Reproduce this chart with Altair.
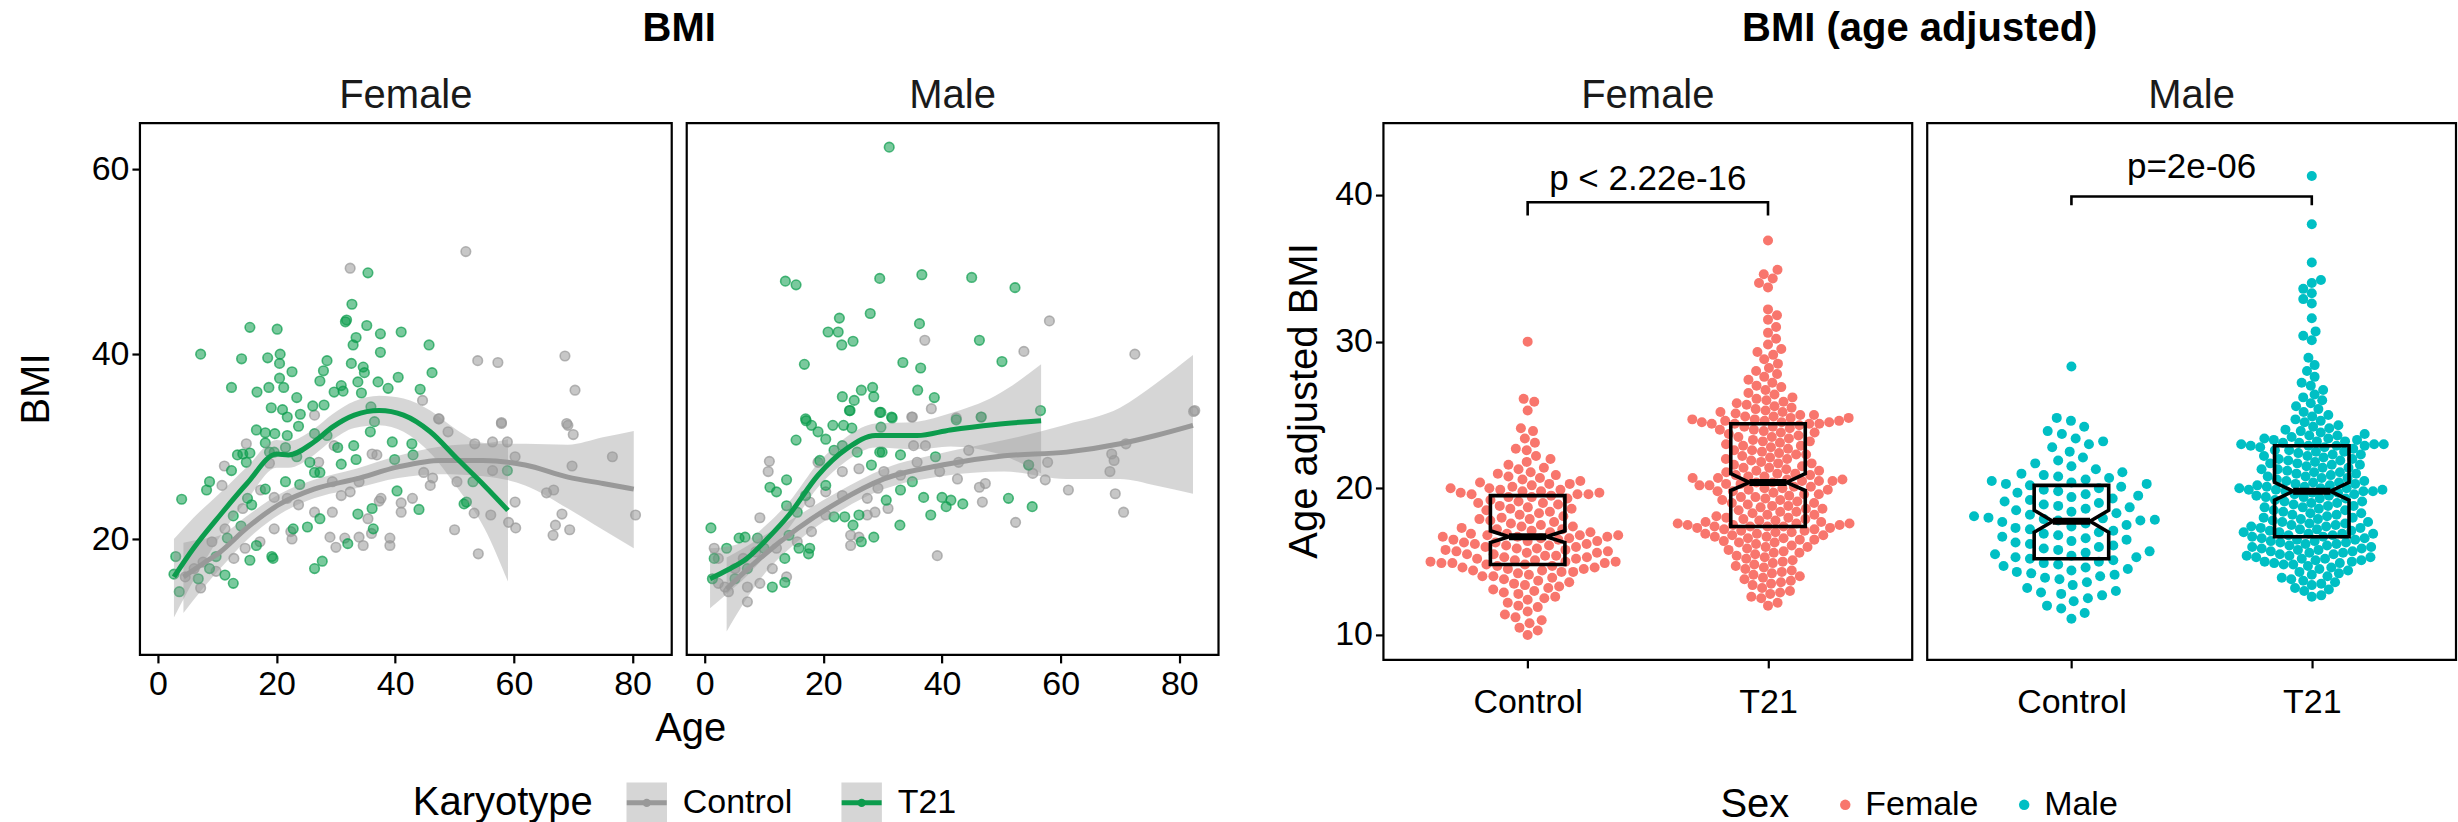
import math
import altair as alt
import pandas as pd

FONT = "Liberation Sans"
GREY = "#999999"
GREEN = "#0C9C4D"
PINK = "#F8766D"
TEAL = "#00BFC4"
KEY_BG = "#D6D6D6"

SEXES = ["Female", "Male"]
KARYOTYPES = ["Control", "T21"]
KAR_COLORS = {"Control": GREY, "T21": GREEN}
SEX_COLORS = {"Female": PINK, "Male": TEAL}

# ---------------- raw BMI vs age (age, BMI) ----------------
F_CONTROL = [(32.4,49.3),(51.9,51.1),(53.9,39.3),(57.3,39.1),(68.6,39.8),(70.3,36.1),(44.6,35.0),(47.3,33.0),(57.9,32.6),(68.9,32.5),
    (14.9,30.3),(11.2,27.9),(10.8,25.8),(17.3,25.3),(19.6,24.5),(21.8,24.4),(23.7,23.7),(22.4,20.8),(22.6,20.0),(29.0,20.2),
    (30.0,19.1),(31.5,20.1),(33.9,20.2),(36.0,20.6),(36.9,29.1),(36.1,29.2),(39.1,19.3),(37.3,24.1),(41.0,23.9),(41.0,22.9),
    (44.8,27.2),(46.3,26.6),(47.4,33.0),(48.9,31.6),(50.0,21.0),(53.3,22.8),(54.0,18.4),(56.1,22.6),(56.4,27.4),(58.9,30.5),
    (60.2,28.9),(59.1,21.8),(60.3,21.2),(60.2,24.0),(65.5,25.0),(66.7,25.3),(67.0,21.5),(66.6,20.4),(68.1,22.7),(69.4,21.0),
    (69.1,32.3),(70.0,31.3),(69.8,27.9),(76.6,28.9),(80.5,22.6),(53.4,30.3),(57.9,32.5),(26.4,33.4),(29.7,30.1),(27.1,28.3),
    (18.8,28.2),(14.3,23.3),(11.3,21.1),(9.1,19.7),(7.6,17.5),(6.1,16.8),(4.6,15.9),(7.2,14.7),(9.8,16.5),(12.8,17.9),
    (14.7,19.0),(17.2,19.7),(19.6,21.1),(26.4,22.9),(29.4,22.9),(30.9,24.7),(33.9,26.2),(32.4,25.1),(29.4,26.2),(35.4,22.2),
    (37.6,24.4),(42.9,24.4),(45.9,25.8),(50.4,26.2),(56.4,30.5),(39.1,20.1),(34.6,19.3)]
F_T21 = [(35.4,48.8),(32.7,45.4),(31.8,43.7),(31.6,43.5),(35.2,43.1),(15.5,42.9),(20.1,42.7),(37.5,42.2),(41.0,42.4),(33.4,41.8),
    (32.9,41.0),(45.7,41.0),(7.2,40.0),(14.1,39.5),(18.5,39.6),(20.6,40.0),(20.5,39.0),(28.5,39.3),(37.5,40.2),(32.6,39.0),
    (34.6,38.6),(27.9,38.2),(22.6,38.1),(46.2,38.0),(34.8,38.0),(20.5,37.4),(27.3,37.1),(33.7,37.0),(37.1,37.0),(40.5,37.5),
    (12.4,36.4),(18.7,36.4),(21.2,36.4),(30.9,36.6),(38.8,36.3),(44.2,36.2),(16.7,35.9),(31.2,36.0),(29.7,35.9),(34.3,35.8),
    (23.4,35.3),(19.1,34.2),(21.0,34.0),(26.1,34.4),(28.0,34.5),(35.9,34.3),(21.8,33.2),(24.0,33.5),(16.6,31.8),(18.1,31.5),
    (19.7,31.4),(21.8,31.2),(23.7,32.2),(26.4,31.4),(28.5,31.2),(13.4,29.1),(14.3,29.2),(14.9,28.3),(18.1,30.4),(19.6,29.4),
    (21.5,29.9),(23.4,28.9),(25.6,28.3),(30.3,29.9),(33.0,30.1),(35.8,31.6),(36.5,32.7),(39.5,30.5),(42.8,30.3),(39.9,28.6),
    (43.0,29.1),(30.9,28.1),(33.4,28.6),(12.4,27.4),(8.7,26.2),(8.2,25.3),(4.0,24.3),(18.1,25.4),(21.5,26.2),(23.9,25.9),
    (26.4,27.2),(27.3,27.2),(15.1,24.4),(15.8,23.7),(12.7,22.5),(14.0,21.4),(11.7,20.1),(16.6,19.3),(15.5,17.7),(19.2,18.1),
    (19.4,17.9),(22.8,21.1),(25.2,21.3),(27.3,22.2),(33.7,22.7),(36.1,23.3),(36.3,21.1),(32.0,19.5),(40.3,25.2),(44.0,23.2),
    (51.6,23.8),(52.0,24.0),(53.1,26.2),(58.9,27.4),(3.0,18.1),(2.7,16.2),(3.6,14.3),(6.8,15.7),(8.7,16.8),(9.8,18.1),
    (11.3,16.1),(12.7,15.2),(26.4,16.8),(27.7,17.6),(18.8,29.4),(15.5,29.3)]
M_CONTROL = [(58.1,43.6),(37.1,41.5),(53.8,40.3),(72.5,40.0),(38.2,34.1),(34.9,33.2),(82.6,33.9),(42.4,33.1),(46.6,33.2),
    (10.9,28.4),(10.7,27.3),(9.3,22.3),(7.2,13.2),(4.0,14.3),(3.4,14.8),(2.3,15.2),(1.6,19.0),(2.3,17.9),(7.2,14.8),(9.3,15.2),
    (13.8,15.9),(11.4,16.8),(18.0,20.8),(17.7,24.0),(19.1,28.3),(24.6,19.3),(26.0,20.2),(27.4,24.4),(28.7,22.9),(30.9,23.3),
    (29.2,25.5),(30.2,27.3),(35.0,33.2),(35.2,30.1),(37.2,30.1),(39.2,18.2),(39.6,27.3),(42.8,28.3),(42.6,26.5),(44.5,29.6),
    (46.3,25.6),(47.3,26.0),(46.8,24.0),(52.4,21.8),(54.6,28.0),(55.3,27.1),(57.4,26.4),(57.8,28.3),(61.3,25.3),(68.3,27.3),
    (68.6,29.2),(69.0,28.5),(69.2,24.9),(70.6,22.9),(71.0,30.3),(82.4,33.8),(5.1,16.8),(6.5,17.9),(8.6,18.6),(12.1,19.0),
    (15.6,19.7),(20.4,22.6),(23.2,24.7),(26.0,27.6),(33.0,26.9),(35.8,28.3),(24.6,20.4),(23.2,27.3),(20.4,25.1),(27.4,22.6)]
M_T21 = [(31.1,62.4),(13.6,47.9),(15.4,47.5),(29.5,48.2),(36.6,48.6),(45.0,48.3),(52.3,47.2),(27.9,44.4),(22.7,43.9),(36.2,43.3),
    (20.8,42.4),(22.5,42.4),(23.1,41.0),(25.0,41.4),(46.3,41.5),(16.8,38.9),(33.4,39.1),(36.4,38.5),(50.1,39.2),(23.2,35.4),
    (25.2,35.0),(26.4,36.1),(28.3,36.4),(28.5,35.4),(35.9,36.1),(38.7,35.3),(24.4,33.9),(29.7,33.7),(56.6,33.9),(17.0,33.0),
    (31.5,33.2),(1.05,21.2),(1.3,15.7),(1.6,17.9),(3.7,19.0),(5.8,20.1),(6.8,20.2),(11.4,14.8),(13.5,15.3),(11.0,25.6),
    (12.1,25.1),(13.8,26.4),(15.4,30.7),(17.1,32.8),(18.0,32.3),(19.1,31.6),(20.4,30.8),(21.6,32.3),(23.4,32.3),(24.8,32.0),
    (24.5,33.9),(29.5,33.7),(31.6,33.1),(29.7,32.1),(19.4,28.5),(21.8,29.6),(23.2,30.1),(25.7,29.4),(28.1,28.0),(29.9,29.4),
    (33.0,29.1),(13.8,23.6),(15.6,22.9),(17.0,24.7),(14.2,20.4),(15.9,19.0),(17.5,18.4),(17.7,19.0),(13.5,17.9),(21.8,22.4),
    (23.6,22.4),(25.0,21.5),(26.0,22.6),(28.5,20.2),(26.4,19.7),(32.9,21.5),(30.6,24.2),(33.0,25.3),(35.0,26.2),(36.9,24.5),
    (38.1,22.6),(40.0,24.5),(40.7,23.5),(41.5,24.2),(43.5,23.8),(51.2,24.4),(55.2,23.5),(54.6,28.0),(46.6,33.2),(42.4,32.9),
    (38.9,28.9),(29.5,29.4),(20.4,25.8),(8.9,20.1),(10.0,19.0),(7.2,16.8),(5.1,15.7)]

# ---------------- loess fits (age, fit, lower, upper) ----------------
F_CONTROL_FIT = [(4.3,15.9,12.0,19.6),(7.5,17.3,14.6,20.0),(10.5,18.6,16.8,20.4),(15,21.2,19.9,22.5),(20.6,23.8,22.7,24.9),
    (26.3,25.4,24.4,26.4),(33.4,26.5,25.5,27.6),(40.5,27.8,26.6,29.0),(47.7,28.5,27.0,30.0),(54.8,28.5,26.8,30.3),
    (61.9,28.0,25.8,30.3),(69.1,26.7,23.3,30.2),(75,26.0,21.0,31.0),(80.2,25.4,19.0,31.7)]
F_T21_FIT = [(2.7,15.9,11.5,20.0),(6,19.0,15.5,22.3),(10.5,22.6,20.3,25.0),(15,26.0,24.2,27.8),(20,29.2,27.7,30.7),
    (22,29.1,27.7,30.6),(26.3,30.5,29.1,31.9),(29.4,32.1,30.7,33.5),(33.1,33.4,32.0,34.9),(37.3,33.9,32.3,35.5),
    (41.4,33.4,31.6,35.2),(45.9,31.6,29.3,33.9),(50.4,28.7,25.6,31.8),(55,25.8,21.2,30.4),(59,23.1,15.4,30.8)]
M_CONTROL_FIT = [(3.7,14.6,10.0,18.0),(6.5,16.3,13.0,19.0),(9.3,17.9,15.6,20.1),(15.6,21.1,19.7,22.5),(22.5,24.0,22.9,25.1),
    (30.2,26.5,25.4,27.6),(40,28.0,26.8,29.3),(50.5,29.0,27.3,30.7),(61,29.4,26.5,32.4),(70,30.3,26.5,34.2),
    (76,31.2,25.8,36.8),(82.3,32.3,24.9,39.9)]
M_T21_FIT = [(0.9,15.7,12.5,19.0),(4,16.7,14.2,19.2),(7.1,17.9,16.0,19.8),(10.5,20.0,18.4,21.6),(14.2,22.6,21.2,24.0),
    (19.1,26.9,25.6,28.2),(24,29.8,28.5,31.1),(28.8,31.2,29.9,32.5),(35.8,31.2,29.7,32.7),(41.4,31.8,30.0,33.6),
    (49,32.4,29.3,35.5),(56.7,32.8,27.1,38.9)]

# ---------------- age adjusted BMI ----------------
ADJ_F_CONTROL = [30.0,26.1,25.9,25.3,24.1,23.9,23.4,23.1,22.7,22.6,22.2,22.0,21.8,21.6,21.4,21.3,21.1,21.0,20.9,20.8,
    20.7,20.6,20.5,20.4,20.3,20.3,20.2,20.1,20.0,20.0,19.9,19.9,19.8,19.8,19.7,19.7,19.6,19.6,19.6,19.5,
    19.4,19.4,19.3,19.2,19.1,19.0,19.0,18.9,18.8,18.7,18.6,18.6,18.5,18.4,18.3,18.2,18.1,18.0,17.9,17.9,
    17.8,17.7,17.6,17.5,17.4,17.4,17.3,17.2,17.2,17.1,17.0,17.0,16.9,16.9,16.8,16.8,16.8,16.7,16.7,16.7,
    16.6,16.6,16.5,16.5,16.4,16.4,16.3,16.3,16.2,16.2,16.1,16.1,16.0,16.0,15.9,15.9,15.8,15.8,15.7,15.7,
    15.6,15.6,15.5,15.5,15.4,15.4,15.3,15.3,15.2,15.2,15.1,15.1,15.0,15.0,15.0,14.9,14.9,14.9,14.8,14.8,
    14.7,14.7,14.6,14.6,14.5,14.5,14.4,14.4,14.3,14.3,14.2,14.1,14.0,14.0,13.9,13.8,13.7,13.6,13.5,13.4,
    13.3,13.2,13.1,13.0,12.9,12.8,12.6,12.5,12.4,12.2,12.0,11.9,11.6,11.4,11.2,11.0,10.8,10.5,10.3,10.0]
ADJ_F_T21 = [36.9,34.9,34.6,34.3,34.0,33.7,32.2,31.8,31.5,31.0,30.6,30.2,29.8,29.5,29.3,29.1,28.8,28.5,28.2,28.0,
    27.8,27.6,27.4,27.2,27.0,26.9,26.7,26.5,26.4,26.2,26.1,26.0,25.9,25.8,25.7,25.6,25.5,25.4,25.3,25.2,
    25.2,25.1,25.0,25.0,24.9,24.9,24.8,24.8,24.7,24.7,24.6,24.6,24.6,24.5,24.5,24.5,24.4,24.4,24.4,24.4,
    24.3,24.2,24.2,24.1,24.0,24.0,23.9,23.8,23.8,23.7,23.6,23.5,23.5,23.4,23.3,23.2,23.2,23.1,23.0,22.9,
    22.9,22.8,22.7,22.6,22.6,22.5,22.4,22.3,22.3,22.2,22.1,22.0,22.0,21.9,21.8,21.7,21.7,21.6,21.5,21.4,
    21.4,21.3,21.2,21.2,21.1,21.0,21.0,20.9,20.9,20.8,20.8,20.7,20.7,20.6,20.6,20.5,20.5,20.5,20.4,20.4,
    20.3,20.3,20.2,20.2,20.1,20.1,20.0,20.0,19.9,19.9,19.8,19.8,19.7,19.6,19.6,19.5,19.4,19.4,19.3,19.2,
    19.2,19.1,19.0,19.0,18.9,18.8,18.8,18.7,18.6,18.6,18.5,18.4,18.4,18.3,18.2,18.2,18.1,18.0,18.0,17.9,
    17.9,17.8,17.8,17.7,17.7,17.6,17.6,17.6,17.5,17.5,17.5,17.4,17.4,17.4,17.4,17.3,17.3,17.2,17.2,17.1,
    17.1,17.0,17.0,16.9,16.9,16.8,16.8,16.7,16.7,16.6,16.6,16.5,16.5,16.4,16.3,16.3,16.2,16.1,16.0,16.0,
    15.9,15.8,15.7,15.6,15.6,15.5,15.4,15.3,15.2,15.1,15.0,14.9,14.8,14.7,14.6,14.5,14.4,14.3,14.2,14.1,
    14.0,13.9,13.8,13.7,13.6,13.5,13.4,13.2,13.0,12.9,12.8,12.6,12.5,12.2,12.0]
ADJ_M_CONTROL = [28.3,24.8,24.6,24.2,23.9,23.7,23.4,23.2,23.0,22.8,22.5,22.1,21.9,21.7,21.5,21.3,21.1,21.0,20.9,20.8,
    20.7,20.6,20.5,20.4,20.3,20.3,20.2,20.1,20.0,19.9,19.8,19.7,19.6,19.5,19.4,19.3,19.2,19.1,19.0,18.9,
    18.8,18.7,18.6,18.5,18.4,18.3,18.2,18.1,18.0,17.95,17.9,17.85,17.8,17.8,17.7,17.6,17.5,17.4,17.3,17.2,
    17.1,17.0,16.9,16.8,16.7,16.6,16.5,16.4,16.3,16.2,16.1,16.0,15.9,15.8,15.7,15.6,15.5,15.4,15.3,15.3,
    15.2,15.1,15.0,14.9,14.8,14.7,14.6,14.5,14.4,14.3,14.2,14.1,14.0,13.9,13.8,13.6,13.4,13.2,13.0,12.9,
    12.8,12.7,12.5,12.3,12.0,11.8,11.5,11.1]
ADJ_M_T21 = [41.3,38.0,35.4,34.2,34.0,33.6,33.3,32.9,32.6,31.6,30.7,30.4,30.1,28.9,28.4,28.0,27.6,27.2,27.0,26.7,
    26.4,26.2,26.0,25.8,25.6,25.4,25.2,25.0,24.9,24.7,24.6,24.5,24.3,24.2,24.1,24.0,23.9,23.8,23.7,23.6,
    23.6,23.5,23.4,23.4,23.3,23.3,23.2,23.2,23.1,23.1,23.0,23.0,23.0,22.9,22.9,22.9,22.9,
    22.8,22.8,22.7,22.6,22.6,22.5,22.5,22.4,22.3,22.3,22.2,22.2,22.1,22.0,22.0,21.9,21.9,21.8,21.7,21.7,
    21.6,21.6,21.5,21.4,21.4,21.3,21.3,21.2,21.1,21.1,21.0,21.0,20.9,20.8,20.8,20.7,20.7,20.6,20.5,20.5,
    20.4,20.4,20.3,20.3,20.2,20.2,20.1,20.1,20.0,20.0,20.0,19.9,19.9,19.9,19.8,19.8,19.8,
    19.7,19.7,19.6,19.6,19.5,19.5,19.4,19.4,19.3,19.3,19.2,19.1,19.1,19.0,19.0,18.9,18.8,18.8,18.7,18.7,
    18.6,18.5,18.5,18.4,18.3,18.3,18.2,18.2,18.1,18.0,18.0,17.9,17.9,17.8,17.7,17.7,17.6,17.6,17.5,17.5,
    17.4,17.4,17.3,17.3,17.2,17.2,17.1,17.1,17.0,17.0,16.9,16.9,16.9,16.8,16.8,16.7,16.7,
    16.6,16.6,16.5,16.5,16.4,16.4,16.3,16.3,16.2,16.2,16.1,16.1,16.0,16.0,15.9,15.9,15.8,15.8,15.7,15.7,
    15.6,15.6,15.5,15.5,15.4,15.4,15.3,15.3,15.2,15.2,15.1,15.1,15.0,15.0,14.9,14.9,14.8,14.8,14.7,14.6,
    14.5,14.4,14.3,14.2,14.1,14.0,13.9,13.8,13.7,13.6,13.5,13.4,13.2,13.1,13.0,12.7,12.6]

# notched box statistics
BOX_SEX = ["Female", "Female", "Male", "Male"]
BOX_CAT = [1, 2, 1, 2]
BOX_Q1 = [14.8, 17.4, 15.2, 16.7]
BOX_NLO = [16.3, 19.85, 17.0, 19.2]
BOX_MED = [16.7, 20.4, 17.75, 19.8]
BOX_NHI = [17.1, 21.0, 18.5, 20.4]
BOX_Q3 = [19.5, 24.4, 20.2, 22.9]

P_SEX = ["Female", "Male"]
P_TEXT = ["p < 2.22e-16", "p=2e-06"]
P_BAR = [39.5, 39.9]
P_TIP = [38.6, 39.3]
P_DY = [-12, -18]

# ---------------- layout constants (pixels) ----------------
LW, LH = 532, 532
RW, RH = 529, 537
GAP = 15
SPACER_W = 135
L_XDOM = [-3.03, 86.6]
L_YDOM = [7.46, 65.0]
R_XDOM = [0.4, 2.6]
R_YDOM = [8.3, 44.9]
BOX_HALF = 0.155
# collision spacing used to spread each swarm (px): Female Control, Female T21, Male Control, Male T21
SWARM_DIAM = [11.0, 10.0, 14.5, 9.6]

# ---------------- data frames ----------------
rows = []
for sex, kar, lst in [("Female", "Control", F_CONTROL), ("Female", "T21", F_T21),
                      ("Male", "Control", M_CONTROL), ("Male", "T21", M_T21)]:
    for a, b in lst:
        rows.append({"sex": sex, "kar": kar, "col": KAR_COLORS[kar], "age": a, "bmi": b})
df_pts = pd.DataFrame(rows)

rows = []
for sex, kar, lst in [("Female", "Control", F_CONTROL_FIT), ("Female", "T21", F_T21_FIT),
                      ("Male", "Control", M_CONTROL_FIT), ("Male", "T21", M_T21_FIT)]:
    for a, f, lo, hi in lst:
        rows.append({"sex": sex, "kar": kar, "col": KAR_COLORS[kar], "age": a, "fit": f, "lo": lo, "hi": hi})
df_fit = pd.DataFrame(rows)


def swarm(vals, px_y, px_x, diam):
    ys = [v * px_y for v in vals]
    order = sorted(range(len(vals)), key=lambda i: ys[i])
    placed = []
    out = [0.0] * len(vals)
    for k, i in enumerate(order):
        y = ys[i]
        near = [(px, py) for (px, py) in placed if abs(py - y) < diam]
        cands = [0.0]
        for px, py in near:
            d = math.sqrt(max(diam ** 2 - (py - y) ** 2, 0.0))
            cands += [px + d, px - d]
        sgn = 1 if k % 2 else -1
        cands.sort(key=lambda c: (round(abs(c), 4), -sgn * c))
        for c in cands:
            if all((c - px) ** 2 + (y - py) ** 2 >= diam ** 2 - 1e-6 for px, py in near):
                out[i] = c
                placed.append((c, y))
                break
    return [o / px_x for o in out]


PX_Y = RH / (R_YDOM[1] - R_YDOM[0])
PX_X = RW / (R_XDOM[1] - R_XDOM[0])
rows = []
for (sex, cat, vals), diam in zip([("Female", 1, ADJ_F_CONTROL), ("Female", 2, ADJ_F_T21),
                                   ("Male", 1, ADJ_M_CONTROL), ("Male", 2, ADJ_M_T21)], SWARM_DIAM):
    offs = swarm(vals, PX_Y, PX_X, diam)
    for v, o in zip(vals, offs):
        rows.append({"sex": sex, "col": SEX_COLORS[sex], "xpos": cat + o, "val": v})
df_sw = pd.DataFrame(rows)

rows = []
med_rows = []
for s, c, q1, nlo, md, nhi, q3 in zip(BOX_SEX, BOX_CAT, BOX_Q1, BOX_NLO, BOX_MED, BOX_NHI, BOX_Q3):
    w, n = BOX_HALF, BOX_HALF / 2
    pts = [(c - w, q1), (c + w, q1), (c + w, nlo), (c + n, md), (c + w, nhi), (c + w, q3),
           (c - w, q3), (c - w, nhi), (c - n, md), (c - w, nlo), (c - w, q1), (c + w, q1)]
    for k, (x, y) in enumerate(pts):
        rows.append({"sex": s, "grp": f"{s}{c}", "ord": k, "x": x, "y": y})
    med_rows.append({"sex": s, "xl": c - n, "xr": c + n, "med": md})
df_box = pd.DataFrame(rows)
df_med = pd.DataFrame(med_rows)

rows = []
txt_rows = []
for s, t, bar, tip in zip(P_SEX, P_TEXT, P_BAR, P_TIP):
    for k, (x, y) in enumerate([(1, tip), (1, bar), (2, bar), (2, tip)]):
        rows.append({"sex": s, "ord": k, "x": x, "y": y})
    txt_rows.append({"sex": s, "x": 1.5, "y": bar, "t": t})
df_br = pd.DataFrame(rows)
df_pt = pd.DataFrame(txt_rows)


def label(text, x, y, size, weight="normal", align="center", baseline="alphabetic", angle=0,
          color="black"):
    return alt.Chart(pd.DataFrame({"t": [text]})).mark_text(
        align=align, baseline=baseline, fontSize=size, fontWeight=weight, angle=angle,
        color=color).encode(x=alt.value(x), y=alt.value(y), text="t:N")


def one(kind, x, y, **kw):
    base = alt.Chart(pd.DataFrame({"k": [0]}))
    if kind == "square":
        m = base.mark_square(**kw)
    elif kind == "point":
        m = base.mark_point(**kw)
    else:
        m = base.mark_circle(**kw)
    return m.encode(x=alt.value(x), y=alt.value(y))


COL = alt.Color("col:N", scale=None, legend=None)

# ---------------- left group: BMI vs Age ----------------
lxs = alt.Scale(domain=L_XDOM, nice=False, zero=False)
lys = alt.Scale(domain=L_YDOM, nice=False, zero=False)


def left_panel(sex, first):
    xax = alt.Axis(values=[0, 20, 40, 60, 80], title=None, labelPadding=5)
    yax = alt.Axis(values=[20, 40, 60], title=None, labelPadding=3) if first else None
    X = alt.X("age:Q", scale=lxs, axis=xax)
    pts = alt.Chart(df_pts).transform_filter(alt.datum.sex == sex).mark_circle(
        size=92, fillOpacity=0.55, strokeOpacity=0.7, strokeWidth=1.6).encode(
        x=X, y=alt.Y("bmi:Q", scale=lys, axis=yax), color=COL,
        stroke=alt.Stroke("col:N", scale=None, legend=None))
    band = alt.Chart(df_fit).transform_filter(alt.datum.sex == sex).mark_area(
        color=GREY, opacity=0.4, interpolate="monotone").encode(
        x=X, y=alt.Y("lo:Q", scale=lys, axis=yax), y2="hi:Q", detail="kar:N")
    line = alt.Chart(df_fit).transform_filter(alt.datum.sex == sex).mark_line(
        strokeWidth=5, interpolate="monotone").encode(
        x=X, y=alt.Y("fit:Q", scale=lys, axis=yax), color=COL, detail="kar:N")
    layers = [pts, band, line, label(sex, LW / 2, -15, 40, color="#1A1A1A")]
    if first:
        ly = 680
        layers += [
            label("BMI", LW + GAP / 2, -82, 40, weight="bold"),
            label("BMI", -91, LH / 2, 40, angle=270),
            label("Age", 551, LH + 86, 40),
            label("Karyotype", 453, ly, 40, align="right", baseline="middle"),
        ]
        for kar, kx in zip(KARYOTYPES, [507, 722]):
            layers += [
                one("square", kx, ly, size=1640, color=KEY_BG, opacity=1),
                one("point", kx, ly, shape="stroke", size=1600, strokeWidth=5, color=KAR_COLORS[kar], opacity=1),
                one("circle", kx, ly, size=70, color=KAR_COLORS[kar], opacity=1),
                label(kar, kx + 36, ly, 34, align="left", baseline="middle"),
            ]
    return alt.layer(*layers).properties(width=LW, height=LH)


# ---------------- right group: age adjusted BMI ----------------
rxs = alt.Scale(domain=R_XDOM, nice=False, zero=False)
rys = alt.Scale(domain=R_YDOM, nice=False, zero=False)


def right_panel(sex, first):
    xax = alt.Axis(values=[1, 2], labelExpr="datum.value == 1 ? 'Control' : 'T21'",
                   title=None, labelPadding=18)
    yax = alt.Axis(values=[10, 20, 30, 40], title=None, labelPadding=3) if first else None
    X = alt.X("xpos:Q", scale=rxs, axis=xax)
    pts = alt.Chart(df_sw).transform_filter(alt.datum.sex == sex).mark_circle(
        size=100, opacity=1).encode(x=X, y=alt.Y("val:Q", scale=rys, axis=yax), color=COL)
    box = alt.Chart(df_box).transform_filter(alt.datum.sex == sex).mark_line(
        color="black", strokeWidth=3.6, strokeJoin="miter").encode(
        x=alt.X("x:Q", scale=rxs, axis=xax), y=alt.Y("y:Q", scale=rys, axis=yax),
        order="ord:Q", detail="grp:N")
    med = alt.Chart(df_med).transform_filter(alt.datum.sex == sex).mark_rule(
        color="black", strokeWidth=7).encode(
        x=alt.X("xl:Q", scale=rxs, axis=xax), x2="xr:Q", y=alt.Y("med:Q", scale=rys, axis=yax))
    br = alt.Chart(df_br).transform_filter(alt.datum.sex == sex).mark_line(
        color="black", strokeWidth=2.6).encode(
        x=alt.X("x:Q", scale=rxs, axis=xax), y=alt.Y("y:Q", scale=rys, axis=yax), order="ord:Q")
    dy = P_DY[P_SEX.index(sex)]
    txt = alt.Chart(df_pt).transform_filter(alt.datum.sex == sex).mark_text(
        fontSize=35, baseline="alphabetic", dy=dy, color="black").encode(
        x=alt.X("x:Q", scale=rxs, axis=xax), y=alt.Y("y:Q", scale=rys, axis=yax), text="t:N")
    layers = [pts, box, med, br, txt, label(sex, RW / 2, -15, 40, color="#1A1A1A")]
    if first:
        ly = 682
        layers += [
            label("BMI (age adjusted)", RW + GAP / 2, -82, 40, weight="bold"),
            label("Age adjusted BMI", -66, 278, 40, angle=270),
            label("Sex", 406, ly, 40, align="right", baseline="middle"),
        ]
        for s, sx in zip(SEXES, [462, 641]):
            layers += [
                one("circle", sx, ly, size=110, color=SEX_COLORS[s], opacity=1),
                label(s, sx + 20, ly, 34, align="left", baseline="middle"),
            ]
    return alt.layer(*layers).properties(width=RW, height=RH)


spacer = alt.Chart(pd.DataFrame({"k": [0]})).mark_point(opacity=0).encode(
    x=alt.value(0), y=alt.value(0)).properties(
    width=SPACER_W, height=10, view=alt.ViewBackground(stroke="transparent"))

chart = alt.hconcat(
    left_panel("Female", True), left_panel("Male", False), spacer,
    right_panel("Female", True), right_panel("Male", False),
    spacing=GAP, bounds="flush"
).properties(
    padding={"left": 15, "top": 7, "right": 0, "bottom": 0}
).configure_view(stroke="black", strokeWidth=2.2).configure_axis(
    labelFont=FONT, titleFont=FONT, labelFontSize=34, titleFontSize=40, labelColor="black",
    titleColor="black", titleFontWeight="normal", tickColor="black", tickSize=8, tickWidth=2.2,
    domain=False, grid=False
).configure_text(font=FONT)

chart.save("out.html", embed_options={"renderer": "svg", "actions": False})
